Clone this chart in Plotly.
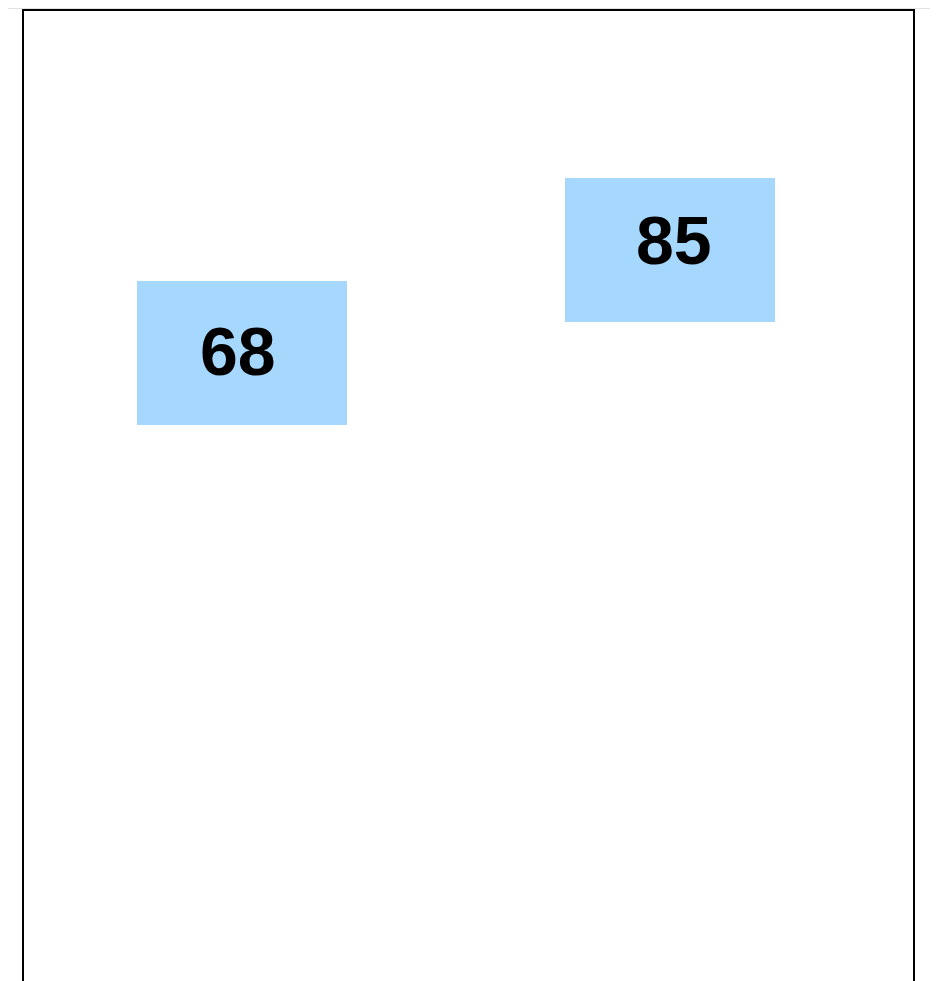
import plotly.graph_objects as go

categories = ["A", "B"]
values = [68, 85]
labels = ["68", "85"]

W, H = 930, 973
fig = go.Figure()
# axes carriers (invisible)
fig.add_trace(go.Scatter(x=categories, y=values, mode="markers", xaxis="x2", yaxis="y2",
                         marker=dict(opacity=0), hoverinfo="skip", showlegend=False))
fig.add_trace(go.Scatter(x=categories, y=values, mode="markers", xaxis="x", yaxis="y",
                         marker=dict(opacity=0), hoverinfo="skip", showlegend=False))

# boxes
for c, v in zip(categories, values):
    fig.add_annotation(x=c, y=v, xref="x2", yref="y2", text=" ",
                       showarrow=False, xanchor="center", yanchor="middle",
                       width=210, height=144, bgcolor="#A6D8FD", borderpad=0, borderwidth=0,
                       font=dict(size=10))
# labels
for c, v, t in zip(categories, values, labels):
    fig.add_annotation(x=c, y=v, xref="x", yref="y", text="<b>%s</b>" % t,
                       showarrow=False, xanchor="center", yanchor="middle",
                       font=dict(family="Liberation Sans, Arial, sans-serif", size=68, color="#000000"))

# top gray band
fig.add_shape(type="rect", xref="paper", yref="paper", x0=-0.1, x1=1.1,
              y0=1 + 1/971, y1=1.05, line=dict(width=0), fillcolor="#E0E2E5", layer="below")
# frame
fig.add_shape(type="rect", xref="paper", yref="paper", x0=0, x1=1, y0=-0.05, y1=1,
              line=dict(color="#000000", width=2), fillcolor="rgba(0,0,0,0)")

ax = dict(visible=False, showgrid=False, zeroline=False)
fig.update_layout(
    xaxis=dict(type="category", range=[-0.4924, 1.5502], **ax),
    yaxis=dict(range=[-28.46, 120.26], **ax),
    xaxis2=dict(type="category", range=[-0.5121, 1.5696], overlaying="x", **ax),
    yaxis2=dict(range=[-35.72, 124.70], overlaying="y", **ax),
    width=W, height=H, autosize=False,
    margin=dict(l=15, r=24, t=2, b=0, pad=0),
    plot_bgcolor="#FFFFFF", paper_bgcolor="#FFFFFF")
fig.write_html("out.html")
